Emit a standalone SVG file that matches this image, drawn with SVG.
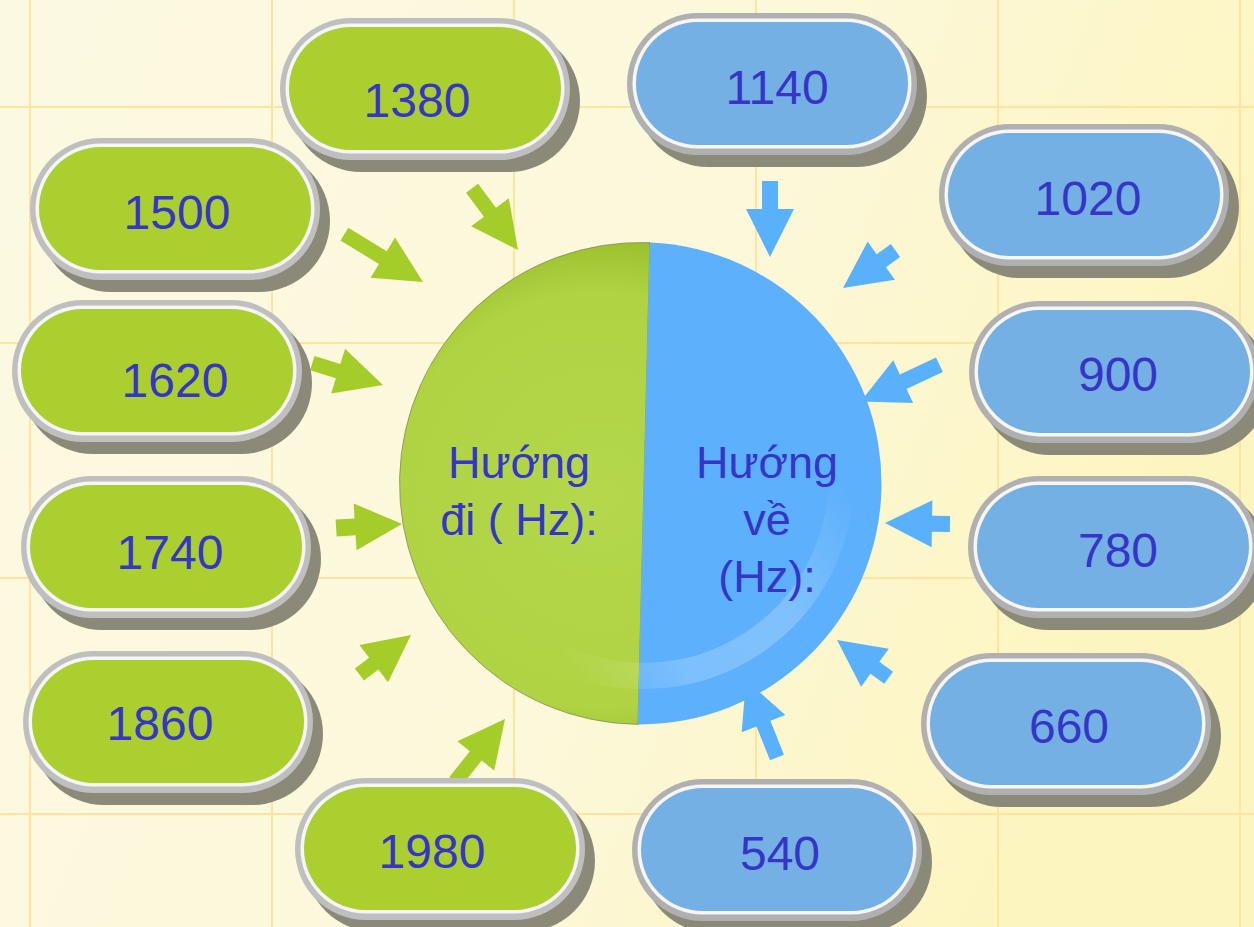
<svg xmlns="http://www.w3.org/2000/svg" width="1254" height="927" viewBox="0 0 1254 927">
  <defs>
    <linearGradient id="bg" x1="0" y1="0" x2="1" y2="0.3">
      <stop offset="0" stop-color="#fcf9e2"/>
      <stop offset="0.6" stop-color="#fcf8da"/>
      <stop offset="1" stop-color="#fdf5c0"/>
    </linearGradient>
    <radialGradient id="greenHalf" cx="600" cy="500" r="260" gradientUnits="userSpaceOnUse">
      <stop offset="0" stop-color="#b4d74c"/>
      <stop offset="0.8" stop-color="#afd342"/>
      <stop offset="1" stop-color="#9dc02e"/>
    </radialGradient>
    <linearGradient id="sheen" x1="842" y1="478" x2="560" y2="657" gradientUnits="userSpaceOnUse">
      <stop offset="0" stop-color="#ffffff" stop-opacity="0"/>
      <stop offset="0.35" stop-color="#ffffff" stop-opacity="0.22"/>
      <stop offset="0.7" stop-color="#ffffff" stop-opacity="0.2"/>
      <stop offset="1" stop-color="#ffffff" stop-opacity="0"/>
    </linearGradient>
    <clipPath id="disc">
      <circle cx="643.5" cy="483.5" r="241"/>
    </clipPath>
  </defs>
  <style>
    .grid line { stroke: #fde5a0; stroke-width: 2; }
    .shadow { fill: #8b8a78; }
    .rim-g { fill: #bfbfbf; }
    .rim-b { fill: #b0b0b0; }
    .ring { fill: #f6f6f6; }
    .fill-g { fill: #aacf2f; }
    .fill-b { fill: #74b0e4; }
    .num { font-family: "Liberation Sans", Arial, sans-serif; font-size: 48px; fill: #3535c8; text-anchor: middle; }
    .label { font-family: "Liberation Sans", Arial, sans-serif; font-size: 45px; fill: #3535c8; text-anchor: middle; }
    .arr-g { fill: #a5cd29; }
    .arr-b { fill: #5ab1fb; }
  </style>

  <!-- background and grid -->
  <rect width="1254" height="927" fill="url(#bg)"/>
  <g class="grid">
    <line x1="30" y1="0" x2="30" y2="927"/>
    <line x1="272" y1="0" x2="272" y2="927"/>
    <line x1="514" y1="0" x2="514" y2="927"/>
    <line x1="756" y1="0" x2="756" y2="927"/>
    <line x1="998" y1="0" x2="998" y2="927"/>
    <line x1="1240" y1="0" x2="1240" y2="927"/>
    <line x1="0" y1="107" x2="1254" y2="107"/>
    <line x1="0" y1="343" x2="1254" y2="343"/>
    <line x1="0" y1="578" x2="1254" y2="578"/>
    <line x1="0" y1="814" x2="1254" y2="814"/>
  </g>

  <!-- connectors: block arrows pointing at the centre disc -->
  <g id="connectors">
    <polygon class="arr-g" points="-77,-7.5 -47,-7.5 -47,-23.5 0,0 -47,23.5 -47,7.5 -77,7.5" transform="translate(518,250) rotate(53.4)"/>
    <polygon class="arr-g" points="-92,-7.5 -47,-7.5 -47,-23.5 0,0 -47,23.5 -47,7.5 -92,7.5" transform="translate(423,282) rotate(31.3)"/>
    <polygon class="arr-g" points="-74,-7.5 -47,-7.5 -47,-23.5 0,0 -47,23.5 -47,7.5 -74,7.5" transform="translate(383,385) rotate(17.2)"/>
    <polygon class="arr-g" points="-66,-8.5 -47,-8.5 -47,-23.5 0,0 -47,23.5 -47,8.5 -66,8.5" transform="translate(402,524) rotate(-3.5)"/>
    <polygon class="arr-g" points="-65,-7.5 -47,-7.5 -47,-23.5 0,0 -47,23.5 -47,7.5 -65,7.5" transform="translate(411,635) rotate(-37.5)"/>
    <polygon class="arr-g" points="-80,-7.5 -47,-7.5 -47,-23.5 0,0 -47,23.5 -47,7.5 -80,7.5" transform="translate(505,719) rotate(-51.6)"/>

    <polygon class="arr-b" points="-76,-8 -48,-8 -48,-24 0,0 -48,24 -48,8 -76,8" transform="translate(770,257) rotate(90)"/>
    <polygon class="arr-b" points="-64.5,-8 -47,-8 -47,-23.5 0,0 -47,23.5 -47,8 -64.5,8" transform="translate(843,288) rotate(144.5)"/>
    <polygon class="arr-b" points="-87,-8 -47,-8 -47,-23.5 0,0 -47,23.5 -47,8 -87,8" transform="translate(860.6,401.5) rotate(155)"/>
    <polygon class="arr-b" points="-65,-8 -47,-8 -47,-23.5 0,0 -47,23.5 -47,8 -65,8" transform="translate(885,523) rotate(180.9)"/>
    <polygon class="arr-b" points="-64,-7.5 -47,-7.5 -47,-23.5 0,0 -47,23.5 -47,7.5 -64,7.5" transform="translate(837,640) rotate(216.2)"/>
    <polygon class="arr-b" points="-83.5,-7.5 -47,-7.5 -47,-23.5 0,0 -47,23.5 -47,7.5 -83.5,7.5" transform="translate(746,680) rotate(-111.8)"/>
  </g>

  <!-- centre disc: outbound (green) and return (blue) halves -->
  <g id="hub">
    <path d="M650,242.6 L638,724.4 A241,241 0 1 1 650,242.6 Z" fill="url(#greenHalf)" stroke="#6b6b55" stroke-opacity="0.55" stroke-width="1"/>
    <path d="M650,242.6 A241,241 0 0 1 638,724.4 Z" fill="#5cb0fc"/>
    <path d="M841.5,478 A198,198 0 0 1 559.8,657.4" fill="none" stroke="url(#sheen)" stroke-width="26" clip-path="url(#disc)"/>
    <text class="label" x="519" y="478">Hướng</text>
    <text class="label" x="519" y="535">đi ( Hz):</text>
    <text class="label" x="767" y="478">Hướng</text>
    <text class="label" x="767" y="535">về</text>
    <text class="label" x="767" y="592">(Hz):</text>
  </g>

  <!-- outbound frequencies -->
  <g id="n1380" transform="translate(280,18)">
    <rect class="shadow" x="10" y="12" width="290" height="142" rx="71"/>
    <rect class="rim-g" width="290" height="142" rx="71"/>
    <rect class="ring" x="5.5" y="5.5" width="279" height="130" rx="65"/>
    <rect class="fill-g" x="9" y="9" width="272" height="123" rx="61.5"/>
    <text class="num" x="137" y="99">1380</text>
  </g>
  <g id="n1500" transform="translate(30,138)">
    <rect class="shadow" x="10" y="12" width="290" height="142" rx="71"/>
    <rect class="rim-g" width="290" height="142" rx="71"/>
    <rect class="ring" x="5.5" y="5.5" width="279" height="130" rx="65"/>
    <rect class="fill-g" x="9" y="9" width="272" height="123" rx="61.5"/>
    <text class="num" x="147" y="91">1500</text>
  </g>
  <g id="n1620" transform="translate(12,300)">
    <rect class="shadow" x="10" y="12" width="290" height="142" rx="71"/>
    <rect class="rim-g" width="290" height="142" rx="71"/>
    <rect class="ring" x="5.5" y="5.5" width="279" height="130" rx="65"/>
    <rect class="fill-g" x="9" y="9" width="272" height="123" rx="61.5"/>
    <text class="num" x="163" y="97">1620</text>
  </g>
  <g id="n1740" transform="translate(21,476)">
    <rect class="shadow" x="10" y="12" width="290" height="142" rx="71"/>
    <rect class="rim-g" width="290" height="142" rx="71"/>
    <rect class="ring" x="5.5" y="5.5" width="279" height="130" rx="65"/>
    <rect class="fill-g" x="9" y="9" width="272" height="123" rx="61.5"/>
    <text class="num" x="149" y="93">1740</text>
  </g>
  <g id="n1860" transform="translate(23,651)">
    <rect class="shadow" x="10" y="12" width="290" height="142" rx="71"/>
    <rect class="rim-g" width="290" height="142" rx="71"/>
    <rect class="ring" x="5.5" y="5.5" width="279" height="130" rx="65"/>
    <rect class="fill-g" x="9" y="9" width="272" height="123" rx="61.5"/>
    <text class="num" x="137" y="89">1860</text>
  </g>
  <g id="n1980" transform="translate(295,778)">
    <rect class="shadow" x="10" y="12" width="290" height="142" rx="71"/>
    <rect class="rim-g" width="290" height="142" rx="71"/>
    <rect class="ring" x="5.5" y="5.5" width="279" height="130" rx="65"/>
    <rect class="fill-g" x="9" y="9" width="272" height="123" rx="61.5"/>
    <text class="num" x="137" y="90">1980</text>
  </g>

  <!-- return frequencies -->
  <g id="n1140" transform="translate(627,13)">
    <rect class="shadow" x="10" y="12" width="290" height="142" rx="71"/>
    <rect class="rim-b" width="290" height="142" rx="71"/>
    <rect class="ring" x="5.5" y="5.5" width="279" height="130" rx="65"/>
    <rect class="fill-b" x="9" y="9" width="272" height="123" rx="61.5"/>
    <text class="num" x="150" y="91">1140</text>
  </g>
  <g id="n1020" transform="translate(939,124)">
    <rect class="shadow" x="10" y="12" width="290" height="142" rx="71"/>
    <rect class="rim-b" width="290" height="142" rx="71"/>
    <rect class="ring" x="5.5" y="5.5" width="279" height="130" rx="65"/>
    <rect class="fill-b" x="9" y="9" width="272" height="123" rx="61.5"/>
    <text class="num" x="149" y="91">1020</text>
  </g>
  <g id="n900" transform="translate(969,301)">
    <rect class="shadow" x="10" y="12" width="290" height="142" rx="71"/>
    <rect class="rim-b" width="290" height="142" rx="71"/>
    <rect class="ring" x="5.5" y="5.5" width="279" height="130" rx="65"/>
    <rect class="fill-b" x="9" y="9" width="272" height="123" rx="61.5"/>
    <text class="num" x="149" y="90">900</text>
  </g>
  <g id="n780" transform="translate(968,476)">
    <rect class="shadow" x="10" y="12" width="290" height="142" rx="71"/>
    <rect class="rim-b" width="290" height="142" rx="71"/>
    <rect class="ring" x="5.5" y="5.5" width="279" height="130" rx="65"/>
    <rect class="fill-b" x="9" y="9" width="272" height="123" rx="61.5"/>
    <text class="num" x="150" y="91">780</text>
  </g>
  <g id="n660" transform="translate(921,653)">
    <rect class="shadow" x="10" y="12" width="290" height="142" rx="71"/>
    <rect class="rim-b" width="290" height="142" rx="71"/>
    <rect class="ring" x="5.5" y="5.5" width="279" height="130" rx="65"/>
    <rect class="fill-b" x="9" y="9" width="272" height="123" rx="61.5"/>
    <text class="num" x="148" y="90">660</text>
  </g>
  <g id="n540" transform="translate(632,779)">
    <rect class="shadow" x="10" y="12" width="290" height="142" rx="71"/>
    <rect class="rim-b" width="290" height="142" rx="71"/>
    <rect class="ring" x="5.5" y="5.5" width="279" height="130" rx="65"/>
    <rect class="fill-b" x="9" y="9" width="272" height="123" rx="61.5"/>
    <text class="num" x="148" y="91">540</text>
  </g>
</svg>
